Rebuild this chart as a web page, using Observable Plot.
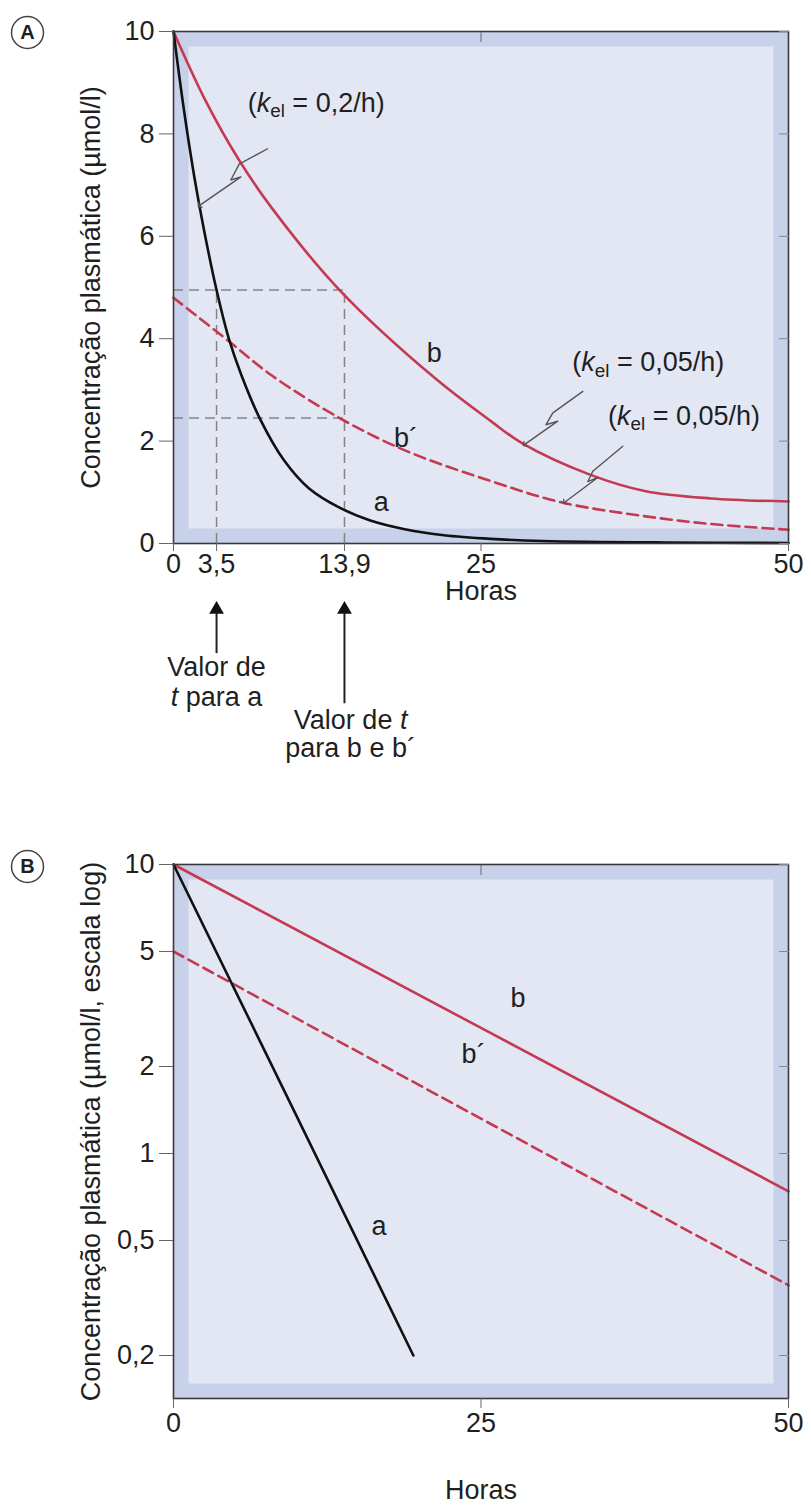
<!DOCTYPE html>
<html><head><meta charset="utf-8">
<script src="https://cdn.jsdelivr.net/npm/d3@7"></script>
<script src="https://cdn.jsdelivr.net/npm/@observablehq/plot@0.6"></script>
<style>
html,body{margin:0;padding:0;background:#fff;}
#wrap{position:relative;width:811px;height:1511px;overflow:hidden;}
#pa,#pb{position:absolute;left:0;}
#pa{top:0;}
#pb{top:800px;}
</style></head><body>
<div id="wrap"><div id="pa"></div><div id="pb"></div></div>
<script>
// ---------- Panel A data (linear scale) ----------
const aT  = [0, 0.8, 1.7, 2.5, 3.5, 4.5, 5.5, 7, 9, 11, 13.5, 16, 18.8, 22, 25.8, 30, 40, 50];
const aC  = [10, 8.55, 7.15, 6.1, 4.95, 4.0, 3.3, 2.45, 1.62, 1.08, 0.7, 0.45, 0.28, 0.16, 0.09, 0.05, 0.02, 0.01];
const bT  = [0, 2.5, 5.3, 8, 13.5, 21.2, 25.8, 28.4, 33.8, 38.4, 43.7, 50];
const bC  = [10, 8.7, 7.5, 6.55, 4.95, 3.24, 2.39, 1.95, 1.35, 1.02, 0.88, 0.82];
const bpT = [0, 4.5, 8, 13.5, 19, 25.8, 31.6, 38.4, 43.7, 50];
const bpC = [4.8, 3.95, 3.28, 2.45, 1.8, 1.22, 0.8, 0.53, 0.38, 0.27];
const guideX = [3.5, 13.9];
const guideY = [4.95, 2.45];
const xTicksA = [0, 3.5, 13.9, 25, 50];
const yTicksA = [0, 2, 4, 6, 8, 10];
// leader lines (annotation pointers)
const leadId = [1,1,1,1,1, 2,2,2,2,2, 3,3,3,3,3];
const leadT  = [7.65, 5.34, 4.66, 5.48, 2.1,  33.28, 30.84, 30.29, 31.24, 28.53,  36.53, 34.09, 33.69, 34.5, 31.78];
const leadC  = [7.71, 7.41, 7.10, 7.16, 6.6,  2.97, 2.55, 2.32, 2.39, 1.93,  1.90, 1.41, 1.21, 1.29, 0.8];
const labelTextA = ["(kel = 0,2/h)", "(kel = 0,05/h)", "(kel = 0,05/h)", "b", "b´", "a"];
const labelTA = [11.6, 38.6, 41.5, 21.2, 18.9, 16.9];
const labelCA = [8.6, 3.53, 2.48, 3.72, 2.05, 0.8];

// ---------- Panel B data (log scale) ----------
const aTB  = [0, 10, 19.5];
const aCB  = [10, 1.35, 0.2];
const bTB  = [0, 25, 50];
const bCB  = [10, 2.72, 0.74];
const bpTB = [0, 25, 50];
const bpCB = [5, 1.32, 0.35];
const xTicksB = [0, 25, 50];
const yTicksB = [0.2, 0.5, 1, 2, 5, 10];
const labelTextB = ["b", "b´", "a"];
const labelTB = [28, 24.4, 16.7];
const labelCB = [3.45, 2.2, 0.56];

// ---------- styling ----------
const FONT = "'Liberation Sans', Arial, Helvetica, sans-serif";
const RED = "#c43a53", BAND = "#c7d1e9", INNER = "#e3e7f3", FRAME = "#3a3a3a", GUIDE = "#858585";
const fmt = d => String(d).replace(".", ",");
const rows = (T, C) => T.map((t, i) => ({t, c: C[i]}));
const style = {fontFamily: FONT, fontSize: "27px", color: "#1f1f1f", background: "transparent", overflow: "visible"};
const mid = {textAnchor: "middle", lineAnchor: "middle"};

function enrich(svg) {
  d3.select(svg).selectAll("text").each(function() {
    if (this.querySelector("tspan")) return;
    const s = this.textContent;
    let parts = null;
    if (s.startsWith("(kel")) parts = [["(", {}], ["k", {"font-style": "italic"}], ["el", {"font-size": "0.7em", "dy": "0.28em"}], [s.slice(4), {"dy": "-0.2em"}]];
    else if (s === "t para a") parts = [["t", {"font-style": "italic"}], [" para a", {}]];
    else if (s === "Valor de t") parts = [["Valor de ", {}], ["t", {"font-style": "italic"}]];
    if (!parts) return;
    const el = d3.select(this);
    el.text(null);
    for (const [str, attrs] of parts) {
      const ts = el.append("tspan").text(str);
      for (const k in attrs) ts.attr(k, attrs[k]);
    }
  });
}

// ---------- Panel A ----------
const plotA = Plot.plot({
  width: 811, height: 800,
  marginLeft: 173, marginRight: 23, marginTop: 31, marginBottom: 257,
  style,
  x: {domain: [0, 50]},
  y: {domain: [0, 10]},
  marks: [
    Plot.frame({fill: BAND, stroke: "none"}),
    Plot.frame({fill: INNER, stroke: "none", inset: 15}),
    Plot.ruleY(guideY, {x1: 0, x2: guideX[1], stroke: GUIDE, strokeWidth: 1.5, strokeDasharray: "10,6"}),
    Plot.ruleX(guideX, {y1: 0, y2: guideY[0], stroke: GUIDE, strokeWidth: 1.5, strokeDasharray: "10,6"}),
    Plot.line(rows(bpT, bpC), {x: "t", y: "c", stroke: RED, strokeWidth: 2.6, strokeDasharray: "11,6", curve: "catmull-rom"}),
    Plot.line(rows(bT, bC), {x: "t", y: "c", stroke: RED, strokeWidth: 2.6, curve: "catmull-rom"}),
    Plot.line(rows(aT, aC), {x: "t", y: "c", stroke: "#111", strokeWidth: 2.6, curve: "catmull-rom"}),
    Plot.line(leadT.map((t, i) => ({t, c: leadC[i], id: leadId[i]})), {x: "t", y: "c", z: "id", stroke: "#555", strokeWidth: 1.4, markerEnd: "arrow"}),
    Plot.frame({stroke: FRAME, strokeWidth: 1.6}),
    Plot.axisY({ticks: yTicksA, tickSize: 14, tickPadding: 5, stroke: "#666", label: null}),
    Plot.axisY({anchor: "right", ticks: yTicksA, tickSize: -10, tickFormat: () => "", stroke: "#888", label: null}),
    Plot.axisX({ticks: xTicksA, tickFormat: fmt, tickSize: 8, tickPadding: 2, stroke: "#666", label: null}),
    Plot.axisX({anchor: "top", ticks: [25], tickSize: -10, tickFormat: () => "", stroke: "#666", label: null}),
    Plot.text(labelTextA, {x: labelTA, y: labelCA, text: d => d}),
    Plot.text(["Concentração plasmática (µmol/l)"], {text: d => d, frameAnchor: "left", dx: -82, rotate: -90, ...mid}),
    Plot.text(["Horas"], {text: d => d, frameAnchor: "bottom", dy: 48, ...mid}),
    // arrows pointing at the t values
    Plot.link(guideX, {x1: d => d, x2: d => d, y1: [-2.14, -3.12], y2: -1.3, stroke: "#222", strokeWidth: 2}),
    Plot.dot(guideX, {x: d => d, y: -1.29, symbol: "triangle", r: 5.5, fill: "#111", stroke: "none"}),
    Plot.text(["Valor de"], {text: d => d, x: 3.5, frameAnchor: "bottom", dy: 124, ...mid}),
    Plot.text(["t para a"], {text: d => d, x: 3.5, frameAnchor: "bottom", dy: 154, ...mid}),
    Plot.text(["Valor de t"], {text: d => d, x: 14.4, frameAnchor: "bottom", dy: 177, ...mid}),
    Plot.text(["para b e b´"], {text: d => d, x: 14.4, frameAnchor: "bottom", dy: 205, ...mid}),
    // panel letter
    Plot.dot([0], {frameAnchor: "top-left", dx: -146, dy: 1, r: 16, stroke: "#444", strokeWidth: 1.5, fill: "white"}),
    Plot.text(["A"], {text: d => d, frameAnchor: "top-left", dx: -146, dy: 1, fontWeight: "bold", fontSize: 20, ...mid})
  ]
});
enrich(plotA);
document.getElementById("pa").append(plotA);

// ---------- Panel B ----------
const plotB = Plot.plot({
  width: 811, height: 711,
  marginLeft: 173, marginRight: 23, marginTop: 64, marginBottom: 113,
  style,
  x: {domain: [0, 50]},
  y: {type: "log", domain: [0.142, 10]},
  marks: [
    Plot.frame({fill: BAND, stroke: "none"}),
    Plot.frame({fill: INNER, stroke: "none", inset: 15}),
    Plot.line(rows(bpTB, bpCB), {x: "t", y: "c", stroke: RED, strokeWidth: 2.6, strokeDasharray: "11,6"}),
    Plot.line(rows(bTB, bCB), {x: "t", y: "c", stroke: RED, strokeWidth: 2.6}),
    Plot.line(rows(aTB, aCB), {x: "t", y: "c", stroke: "#111", strokeWidth: 2.6}),
    Plot.frame({stroke: FRAME, strokeWidth: 1.6}),
    Plot.axisY({ticks: yTicksB, tickFormat: fmt, tickSize: 14, tickPadding: 5, stroke: "#666", label: null}),
    Plot.axisY({anchor: "right", ticks: yTicksB, tickSize: -10, tickFormat: () => "", stroke: "#888", label: null}),
    Plot.axisX({ticks: xTicksB, tickFormat: fmt, tickSize: 10, tickPadding: 4, stroke: "#666", label: null}),
    Plot.axisX({anchor: "top", ticks: [25], tickSize: -10, tickFormat: () => "", stroke: "#666", label: null}),
    Plot.text(labelTextB, {x: labelTB, y: labelCB, text: d => d}),
    Plot.text(["Concentração plasmática (µmol/l, escala log)"], {text: d => d, frameAnchor: "left", dx: -82, rotate: -90, ...mid}),
    Plot.text(["Horas"], {text: d => d, frameAnchor: "bottom", dy: 92, ...mid}),
    Plot.dot([0], {frameAnchor: "top-left", dx: -146, dy: 2, r: 16, stroke: "#444", strokeWidth: 1.5, fill: "white"}),
    Plot.text(["B"], {text: d => d, frameAnchor: "top-left", dx: -146, dy: 2, fontWeight: "bold", fontSize: 20, ...mid})
  ]
});
enrich(plotB);
document.getElementById("pb").append(plotB);
</script>
</body></html>
